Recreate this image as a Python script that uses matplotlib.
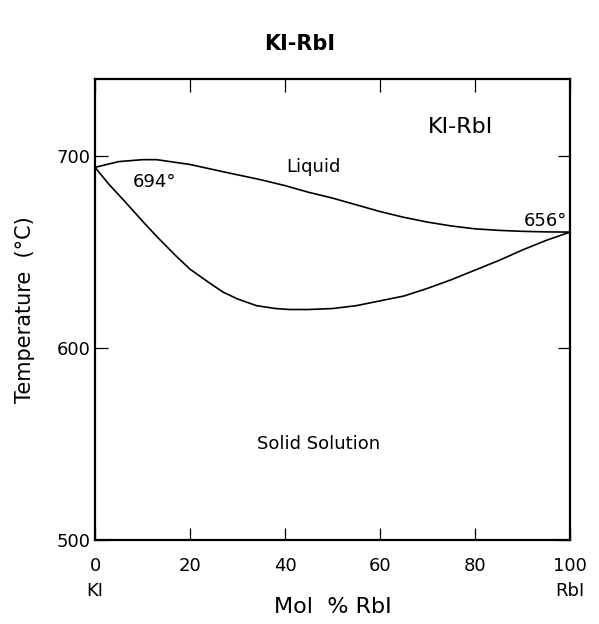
import numpy as np
import matplotlib
matplotlib.use("Agg")
import matplotlib.pyplot as plt

plt.rcParams['font.family'] = ['DejaVu Sans']

# Liquidus curve (mol % RbI, temperature in deg C)
liq_x = [0, 5, 10, 13, 20, 27, 35, 40, 45, 50, 55, 60, 65, 70, 75, 80, 85, 90, 95, 100]
liq_t = [694, 697, 698, 698, 695.5, 691.7, 687.5, 684.5, 681, 678, 674.5, 671,
         668, 665.5, 663.5, 662, 661.2, 660.7, 660.4, 660.3]

# Solidus curve
sol_x = [0, 3, 6, 10, 13, 17, 20, 24, 27, 30, 34, 38, 41, 45, 50, 55, 60, 65,
         70, 75, 80, 85, 90, 95, 100]
sol_t = [694, 685, 677, 666, 658, 648, 641, 634, 629, 625.5, 622, 620.5, 620,
         620, 620.5, 622, 624.5, 627, 631, 635.5, 640.5, 645.5, 651, 656, 660.3]

x_ticks = [0, 20, 40, 60, 80, 100]
y_ticks = [500, 600, 700]

fig = plt.figure(figsize=(5.99, 6.24), dpi=100)
ax = fig.add_axes([0.1586, 0.1346, 0.793, 0.7388])

ax.plot(liq_x, liq_t, color='black', lw=1.2)
ax.plot(sol_x, sol_t, color='black', lw=1.2)

ax.set_xlim(0, 100)
ax.set_ylim(500, 740)
ax.set_xticks(x_ticks)
ax.set_yticks(y_ticks)
ax.tick_params(axis='x', direction='in', length=9, width=0.9, top=True,
               labelsize=13, pad=12)
ax.tick_params(axis='y', direction='in', length=9, width=0.9, right=True,
               labelsize=13, pad=3)
for s in ax.spines.values():
    s.set_linewidth(1.6)

ax.set_xlabel('Mol  % RbI', fontsize=16, labelpad=16)
ax.set_ylabel('Temperature  (°C)', fontsize=15, labelpad=16)

# composition end labels under the axis
ax.text(0, -0.11, 'KI', transform=ax.transAxes, ha='center', va='center', fontsize=13)
ax.text(1.0, -0.11, 'RbI', transform=ax.transAxes, ha='center', va='center', fontsize=13)

ax.text(77, 715, 'KI-RbI', ha='center', va='center', fontsize=16)
ax.text(46, 694, 'Liquid', ha='center', va='center', fontsize=13)
ax.text(12.6, 686.5, '694°', ha='center', va='center', fontsize=13)
ax.text(99.3, 666, '656°', ha='right', va='center', fontsize=13)
ax.text(47, 550, 'Solid Solution', ha='center', va='center', fontsize=13)

fig.suptitle('KI-RbI', x=0.5, y=0.945, fontsize=15, fontweight='bold')

fig.savefig('out.png', dpi=100)
